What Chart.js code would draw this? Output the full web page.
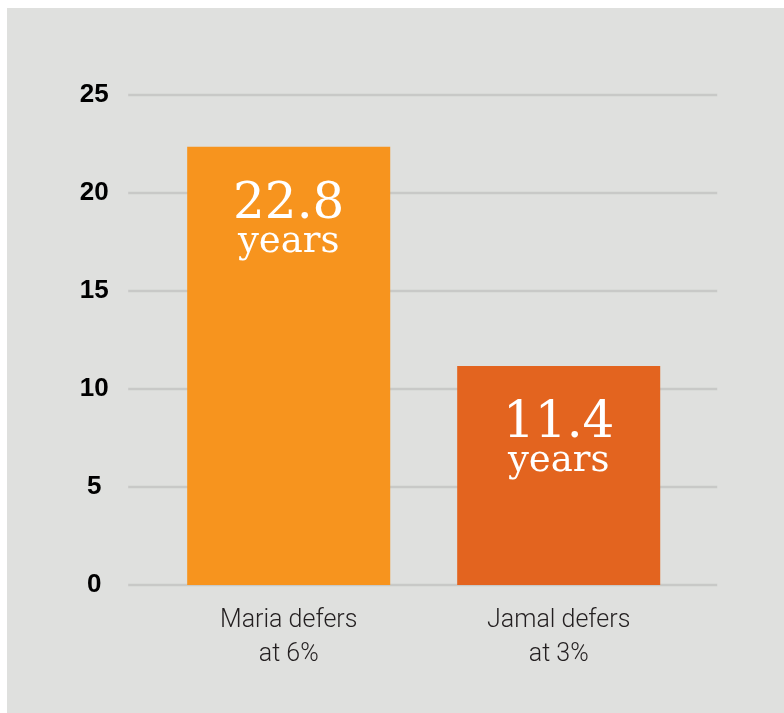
<!DOCTYPE html>
<html>
<head>
<meta charset="utf-8">
<script src="https://cdn.jsdelivr.net/npm/chart.js@4.4.1/dist/chart.umd.min.js"></script>
<style>
  html, body { margin: 0; padding: 0; background: #ffffff; }
  .panel { position: absolute; left: 7px; top: 8px; width: 777px; height: 705px; background: #dfe0de; }
  canvas { display: block; }
</style>
</head>
<body>
<div class="panel"><canvas id="chart" width="777" height="705"></canvas></div>
<script>
const categories = [["Maria defers", "at 6%"], ["Jamal defers", "at 3%"]];
const years = [22.36, 11.17];
const valueLabels = ["22.8", "11.4"];
const unitLabel = "years";
const barColors = ["#f7941e", "#e3641f"];
const yTicks = [0, 5, 10, 15, 20, 25];

// grid lines run a bit wider than the bars' plot area
const wideGrid = {
  id: "wideGrid",
  beforeDatasetsDraw(chart) {
    const { ctx, chartArea, scales } = chart;
    ctx.save();
    ctx.strokeStyle = "#c8c9c7";
    ctx.lineWidth = 2.5;
    yTicks.forEach((v) => {
      const y = scales.y.getPixelForValue(v);
      ctx.beginPath();
      ctx.moveTo(chartArea.left - 25.5, y);
      ctx.lineTo(chartArea.right + 23.5, y);
      ctx.stroke();
    });
    ctx.restore();
  },
};

const barText = {
  id: "barText",
  afterDatasetsDraw(chart) {
    const { ctx } = chart;
    const meta = chart.getDatasetMeta(0);
    ctx.save();
    ctx.fillStyle = "#ffffff";
    ctx.textAlign = "center";
    ctx.textBaseline = "alphabetic";
    meta.data.forEach((bar, i) => {
      ctx.font = '50px "DejaVu Serif"';
      ctx.fillText(valueLabels[i], bar.x, bar.y + 71);
      ctx.font = '37px "DejaVu Serif"';
      ctx.fillText(unitLabel, bar.x, bar.y + 105);
    });
    ctx.restore();
  },
};

new Chart(document.getElementById("chart"), {
  type: "bar",
  data: {
    labels: categories,
    datasets: [
      {
        data: years,
        backgroundColor: barColors,
        borderWidth: 0,
        categoryPercentage: 1,
        barPercentage: 0.752,
      },
    ],
  },
  options: {
    responsive: false,
    animation: false,
    layout: { padding: { top: 87, right: 90.3, bottom: 0, left: 0 } },
    plugins: { legend: { display: false }, tooltip: { enabled: false } },
    scales: {
      x: {
        grid: { display: false, drawTicks: false },
        border: { display: false },
        ticks: {
          color: "#231f20",
          padding: 19,
          maxRotation: 0,
          font: { family: "Roboto", size: 25, weight: 300, lineHeight: "34px" },
        },
        afterFit(scale) {
          scale.height = 128;
        },
      },
      y: {
        min: 0,
        max: 25,
        grid: { display: false, drawTicks: false },
        border: { display: false },
        ticks: {
          stepSize: 5,
          color: "#000000",
          padding: 45,
          crossAlign: "center",
          font: { family: "Liberation Sans", size: 26, weight: "bold" },
        },
        afterFit(scale) {
          scale.width = 146.7;
        },
      },
    },
  },
  plugins: [wideGrid, barText],
});
</script>
</body>
</html>
